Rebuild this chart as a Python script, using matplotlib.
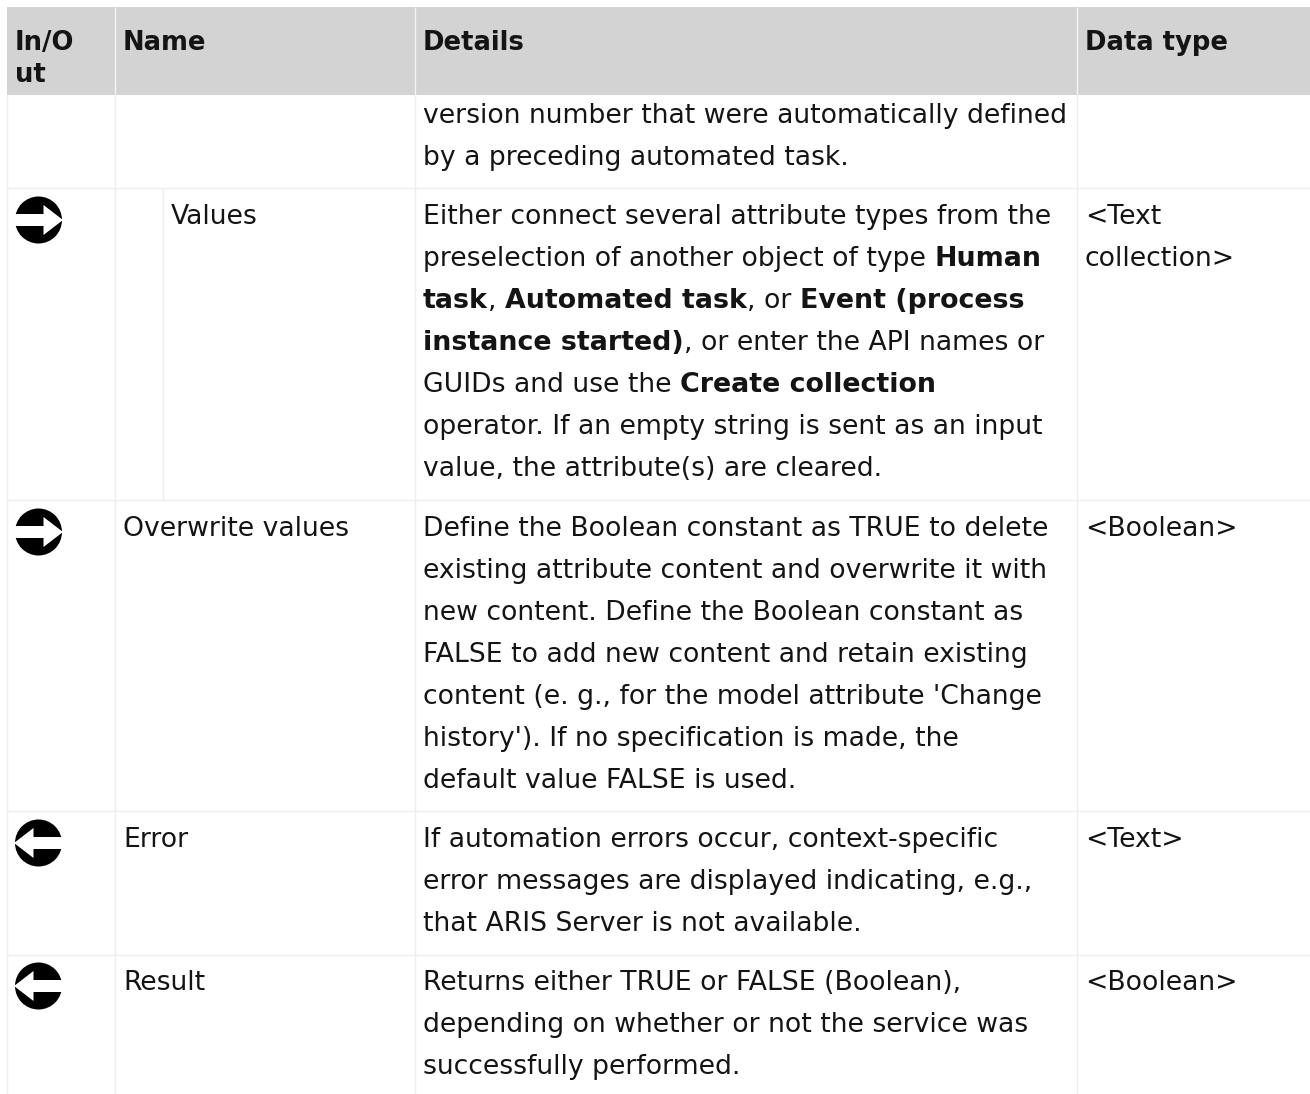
import matplotlib
matplotlib.use("Agg")
import matplotlib.pyplot as plt
from matplotlib.patches import Rectangle, Circle, Polygon

FONT = "DejaVu Sans"
SIZE = 19.2
BOLD_SIZE = 19.4
HEAD_SIZE = 18.6
TEXT = "#141414"
HEAD_BG = "#d3d3d3"
GRID = "#eeeeee"
BASE = 9  # baseline offset below the line centre

headers = [("In/O\nut", 15), ("Name", 123), ("Details", 423), ("Data type", 1085)]
names = [("Values", 171, 215), ("Overwrite values", 123, 527), ("Error", 123, 838), ("Result", 123, 981)]
data_types = [("<Text", 215), ("collection>", 257), ("<Boolean>", 527), ("<Text>", 838), ("<Boolean>", 981)]
directions = [("in", 220), ("in", 532), ("out", 843), ("out", 986)]
row_lines = [188, 500, 811, 955]
col_lines = [6.5, 114.5, 415, 1077]

# (text, bold) runs per line; y is the line centre
details = [
    (114, [("version number that were automatically defined", False)]),
    (156, [("by a preceding automated task.", False)]),
    (215, [("Either connect several attribute types from the", False)]),
    (257, [("preselection of another object of type ", False), ("Human", True)]),
    (299, [("task", True), (", ", False), ("Automated task", True), (", or ", False), ("Event (process", True)]),
    (341, [("instance started)", True), (", or enter the API names or", False)]),
    (383, [("GUIDs and use the ", False), ("Create collection", True)]),
    (425, [("operator. If an empty string is sent as an input", False)]),
    (467, [("value, the attribute(s) are cleared.", False)]),
    (527, [("Define the Boolean constant as TRUE to delete", False)]),
    (569, [("existing attribute content and overwrite it with", False)]),
    (611, [("new content. Define the Boolean constant as", False)]),
    (653, [("FALSE to add new content and retain existing", False)]),
    (695, [("content (e. g., for the model attribute 'Change", False)]),
    (737, [("history'). If no specification is made, the", False)]),
    (779, [("default value FALSE is used.", False)]),
    (838, [("If automation errors occur, context-specific", False)]),
    (880, [("error messages are displayed indicating, e.g.,", False)]),
    (922, [("that ARIS Server is not available.", False)]),
    (981, [("Returns either TRUE or FALSE (Boolean),", False)]),
    (1023, [("depending on whether or not the service was", False)]),
    (1065, [("successfully performed.", False)]),
]

fig = plt.figure(figsize=(13.10, 10.94), dpi=100, facecolor="white")
ax = fig.add_axes([0, 0, 1, 1])
ax.set_xlim(0, 1310)
ax.set_ylim(1094, 0)
ax.axis("off")

ax.add_patch(Rectangle((6.5, 7), 1303.5, 88, fc=HEAD_BG, ec="none"))
for x in col_lines[1:]:
    ax.plot([x, x], [7, 95], color="#f4f4f4", lw=1, solid_capstyle="butt")
for x in col_lines:
    ax.plot([x, x], [95, 1094], color=GRID, lw=1, solid_capstyle="butt")
ax.plot([162.5, 162.5], [188, 500], color=GRID, lw=1, solid_capstyle="butt")
for y in row_lines:
    ax.plot([6.5, 1310], [y, y], color=GRID, lw=1, solid_capstyle="butt")

def put(x, y, s, bold=False, size=None):
    return ax.text(x, y + BASE, s, fontfamily=FONT,
                   fontsize=size or (BOLD_SIZE if bold else SIZE), color=TEXT,
                   fontweight="bold" if bold else "normal",
                   va="baseline", ha="left")

renderer = fig.canvas.get_renderer()
def runs(x, y, parts):
    for s, bold in parts:
        put(x, y, s, bold)
        probe = put(0, 0, s.replace(" ", "\u00a0"), bold)
        x += probe.get_window_extent(renderer).width
        probe.remove()

for s, x in headers:
    if "\n" in s:
        a, b = s.split("\n")
        put(x, 41, a, True, HEAD_SIZE)
        put(x, 73, b, True, HEAD_SIZE)
    else:
        put(x, 41, s, True, HEAD_SIZE)
for s, x, y in names:
    put(x, y, s)
for s, y in data_types:
    put(1085, y, s)
for y, parts in details:
    runs(423, y, parts)

def icon(kind, cy, cx=38.5, r=23.5):
    ax.add_patch(Circle((cx, cy), r, fc="black", ec="none"))
    s = 1 if kind == "in" else -1
    pts = [(-r - 1, -6), (5, -6), (5, -15), (r + 1, 0), (5, 15), (5, 6), (-r - 1, 6)]
    ax.add_patch(Polygon([(cx + s * a, cy + b) for a, b in pts], fc="white", ec="none"))

for kind, cy in directions:
    icon(kind, cy)

fig.savefig("out.png", dpi=100, facecolor="white")
